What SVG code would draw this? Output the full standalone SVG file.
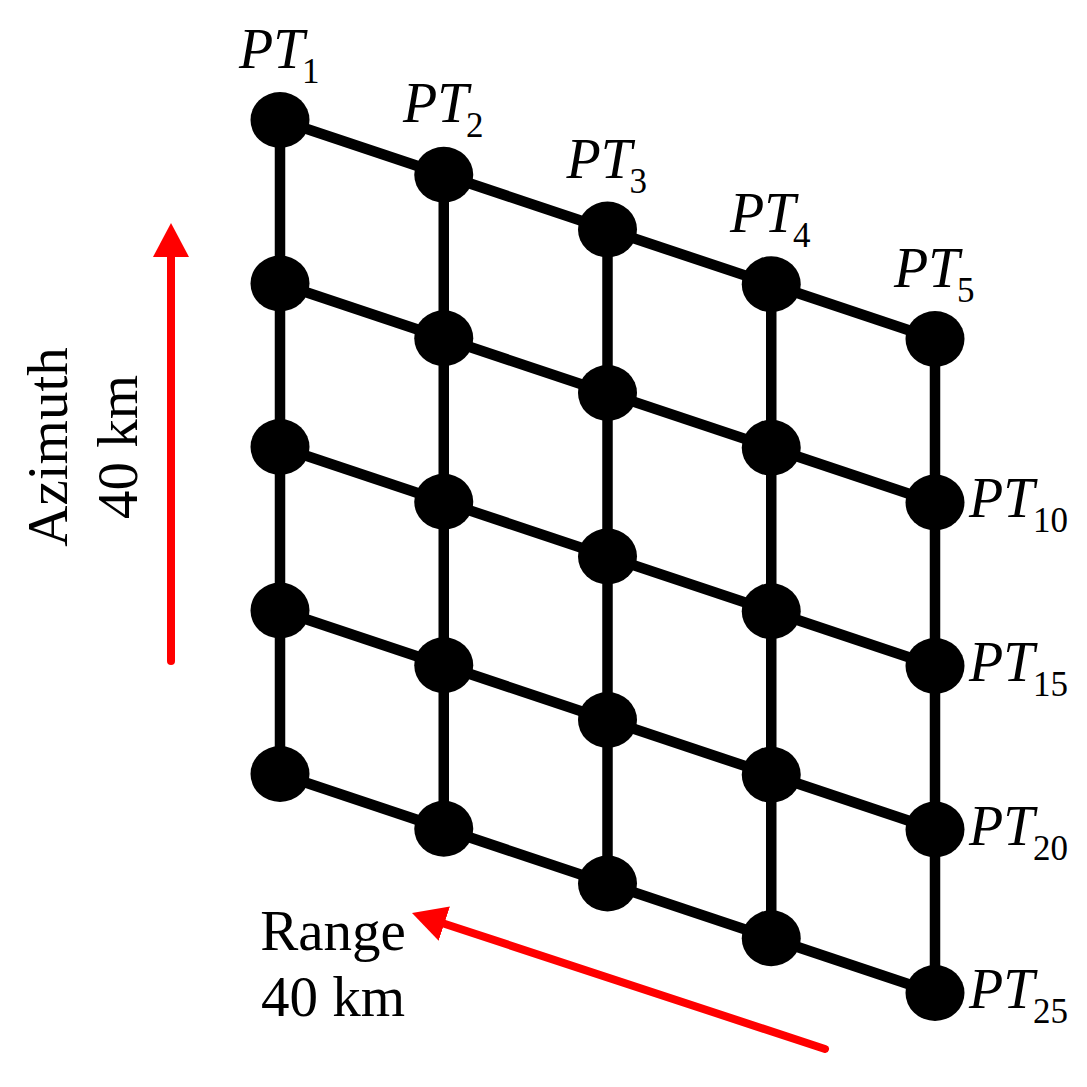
<svg xmlns="http://www.w3.org/2000/svg" width="1087" height="1087" viewBox="0 0 1087 1087">
<style>
.grid{stroke:#000;stroke-width:10.5;fill:none}
.dot{fill:#000}
.pt{font-family:"Liberation Serif","Times New Roman",serif;font-style:italic;font-size:56px;fill:#000}
.sub{font-family:"Liberation Serif","Times New Roman",serif;font-size:35px;fill:#000}
.lbl{font-family:"Liberation Serif","Times New Roman",serif;font-size:57px;fill:#000;text-anchor:middle}
.arr{stroke:#ff0000;stroke-width:8;stroke-linecap:round;fill:none;marker-end:url(#head)}
</style>
<defs>
<marker id="head" viewBox="0 0 34 36" refX="0" refY="18" markerUnits="userSpaceOnUse" markerWidth="34" markerHeight="36" orient="auto">
<path d="M0,0 L34,18 L0,36 Z" fill="#ff0000"/>
</marker>
</defs>
<rect width="1087" height="1087" fill="#fff"/>
<g id="connectors">
<line class="grid" x1="280" y1="120" x2="935" y2="339"/>
<line class="grid" x1="280" y1="283.5" x2="935" y2="502.5"/>
<line class="grid" x1="280" y1="447" x2="935" y2="666"/>
<line class="grid" x1="280" y1="610.5" x2="935" y2="829.5"/>
<line class="grid" x1="280" y1="774" x2="935" y2="993"/>
<line class="grid" x1="280" y1="120" x2="280" y2="774"/>
<line class="grid" x1="443.75" y1="174.75" x2="443.75" y2="828.75"/>
<line class="grid" x1="607.5" y1="229.5" x2="607.5" y2="883.5"/>
<line class="grid" x1="771.25" y1="284.25" x2="771.25" y2="938.25"/>
<line class="grid" x1="935" y1="339" x2="935" y2="993"/>
</g>
<g id="nodes">
<g id="pt1"><ellipse class="dot" cx="280" cy="120" rx="29.5" ry="28"/><text class="pt" x="239" y="68">PT</text><text class="sub" x="302" y="83">1</text></g>
<g id="pt2"><ellipse class="dot" cx="443.75" cy="174.75" rx="29.5" ry="28"/><text class="pt" x="403" y="122">PT</text><text class="sub" x="466" y="137">2</text></g>
<g id="pt3"><ellipse class="dot" cx="607.5" cy="229.5" rx="29.5" ry="28"/><text class="pt" x="566.5" y="177.5">PT</text><text class="sub" x="629.5" y="192.5">3</text></g>
<g id="pt4"><ellipse class="dot" cx="771.25" cy="284.25" rx="29.5" ry="28"/><text class="pt" x="730" y="232">PT</text><text class="sub" x="793" y="247">4</text></g>
<g id="pt5"><ellipse class="dot" cx="935" cy="339" rx="29.5" ry="28"/><text class="pt" x="894" y="287">PT</text><text class="sub" x="957" y="302">5</text></g>
<g id="pt6"><ellipse class="dot" cx="280" cy="283.5" rx="29.5" ry="28"/></g>
<g id="pt7"><ellipse class="dot" cx="443.75" cy="338.25" rx="29.5" ry="28"/></g>
<g id="pt8"><ellipse class="dot" cx="607.5" cy="393" rx="29.5" ry="28"/></g>
<g id="pt9"><ellipse class="dot" cx="771.25" cy="447.75" rx="29.5" ry="28"/></g>
<g id="pt10"><ellipse class="dot" cx="935" cy="502.5" rx="29.5" ry="28"/><text class="pt" x="969" y="517">PT</text><text class="sub" x="1033" y="532">10</text></g>
<g id="pt11"><ellipse class="dot" cx="280" cy="447" rx="29.5" ry="28"/></g>
<g id="pt12"><ellipse class="dot" cx="443.75" cy="501.75" rx="29.5" ry="28"/></g>
<g id="pt13"><ellipse class="dot" cx="607.5" cy="556.5" rx="29.5" ry="28"/></g>
<g id="pt14"><ellipse class="dot" cx="771.25" cy="611.25" rx="29.5" ry="28"/></g>
<g id="pt15"><ellipse class="dot" cx="935" cy="666" rx="29.5" ry="28"/><text class="pt" x="969" y="681">PT</text><text class="sub" x="1033" y="696">15</text></g>
<g id="pt16"><ellipse class="dot" cx="280" cy="610.5" rx="29.5" ry="28"/></g>
<g id="pt17"><ellipse class="dot" cx="443.75" cy="665.25" rx="29.5" ry="28"/></g>
<g id="pt18"><ellipse class="dot" cx="607.5" cy="720" rx="29.5" ry="28"/></g>
<g id="pt19"><ellipse class="dot" cx="771.25" cy="774.75" rx="29.5" ry="28"/></g>
<g id="pt20"><ellipse class="dot" cx="935" cy="829.5" rx="29.5" ry="28"/><text class="pt" x="969" y="844.5">PT</text><text class="sub" x="1033" y="859.5">20</text></g>
<g id="pt21"><ellipse class="dot" cx="280" cy="774" rx="29.5" ry="28"/></g>
<g id="pt22"><ellipse class="dot" cx="443.75" cy="828.75" rx="29.5" ry="28"/></g>
<g id="pt23"><ellipse class="dot" cx="607.5" cy="883.5" rx="29.5" ry="28"/></g>
<g id="pt24"><ellipse class="dot" cx="771.25" cy="938.25" rx="29.5" ry="28"/></g>
<g id="pt25"><ellipse class="dot" cx="935" cy="993" rx="29.5" ry="28"/><text class="pt" x="969" y="1008">PT</text><text class="sub" x="1033" y="1023">25</text></g>
</g>
<g id="azimuth">
<line class="arr" x1="171" y1="661" x2="171" y2="257"/>
<text class="lbl" transform="translate(67,447) rotate(-90)">Azimuth</text>
<text class="lbl" transform="translate(137,447) rotate(-90)">40 km</text>
</g>
<g id="range">
<line class="arr" x1="825" y1="1049" x2="444.3" y2="923.7"/>
<text class="lbl" x="333" y="950">Range</text>
<text class="lbl" x="333" y="1016">40 km</text>
</g>
</svg>
